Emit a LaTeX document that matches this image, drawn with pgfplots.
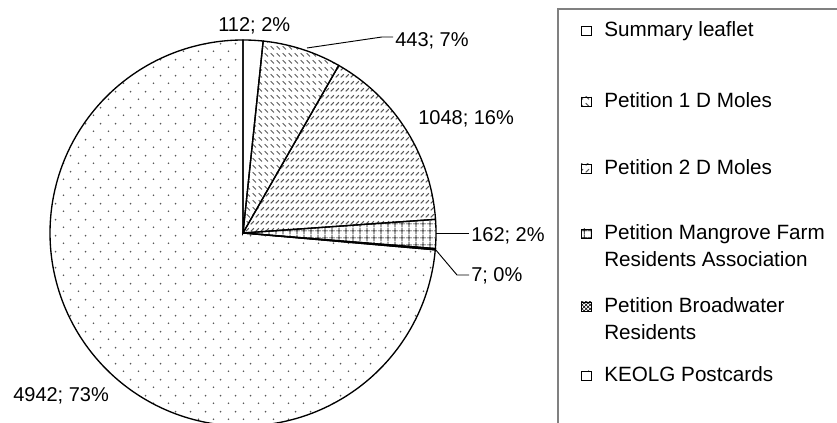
\documentclass[border=0pt]{standalone}
\usepackage{fontspec}
\setmainfont{Liberation Sans}
\usepackage{pgfplots}
\usepackage{pgfplotstable}
\pgfplotsset{compat=1.18}
\usetikzlibrary{patterns}

\pgfdeclarepatternformonly{dashdown}{\pgfpointorigin}{\pgfpoint{4.1pt}{5.5pt}}{\pgfpoint{4.1pt}{5.5pt}}{%
  \pgfsetlinewidth{0.8pt}%
  \pgfpathmoveto{\pgfpoint{0.6pt}{3.9pt}}%
  \pgfpathlineto{\pgfpoint{3.2pt}{1.3pt}}%
  \pgfusepath{stroke}}
\pgfdeclarepatternformonly{dashup}{\pgfpointorigin}{\pgfpoint{4.1pt}{5.5pt}}{\pgfpoint{4.1pt}{5.5pt}}{%
  \pgfsetlinewidth{0.8pt}%
  \pgfpathmoveto{\pgfpoint{0.6pt}{1.3pt}}%
  \pgfpathlineto{\pgfpoint{3.2pt}{3.9pt}}%
  \pgfusepath{stroke}}
\pgfdeclarepatternformonly{smallgrid}{\pgfpointorigin}{\pgfpoint{5.25pt}{5.25pt}}{\pgfpoint{5.25pt}{5.25pt}}{%
  \pgfsetlinewidth{0.6pt}%
  \pgfpathmoveto{\pgfpoint{2.625pt}{0pt}}%
  \pgfpathlineto{\pgfpoint{2.625pt}{5.25pt}}%
  \pgfpathmoveto{\pgfpoint{0pt}{2.625pt}}%
  \pgfpathlineto{\pgfpoint{5.25pt}{2.625pt}}%
  \pgfusepath{stroke}}
\pgfdeclarepatternformonly{stagdots}{\pgfpointorigin}{\pgfpoint{11.25pt}{12pt}}{\pgfpoint{11.25pt}{12pt}}{%
  \pgfpathcircle{\pgfpoint{2.8pt}{3pt}}{0.75pt}%
  \pgfpathcircle{\pgfpoint{8.4pt}{9pt}}{0.75pt}%
  \pgfusepath{fill}}

\pgfplotstableread{
label value
SummaryLeaflet 112
Petition1 443
Petition2 1048
Mangrove 162
Broadwater 7
KEOLG 4942
}\piedata

\pgfplotstablegetelem{0}{value}\of\piedata \let\vA\pgfplotsretval
\pgfplotstablegetelem{1}{value}\of\piedata \let\vB\pgfplotsretval
\pgfplotstablegetelem{2}{value}\of\piedata \let\vC\pgfplotsretval
\pgfplotstablegetelem{3}{value}\of\piedata \let\vD\pgfplotsretval
\pgfplotstablegetelem{4}{value}\of\piedata \let\vE\pgfplotsretval
\pgfplotstablegetelem{5}{value}\of\piedata \let\vF\pgfplotsretval
\pgfmathsetmacro\tot{\vA+\vB+\vC+\vD+\vE+\vF}
\pgfmathsetmacro\aA{90}
\pgfmathsetmacro\aB{\aA-360*(\vA/\tot)}
\pgfmathsetmacro\aC{\aB-360*(\vB/\tot)}
\pgfmathsetmacro\aD{\aC-360*(\vC/\tot)}
\pgfmathsetmacro\aE{\aD-360*(\vD/\tot)}
\pgfmathsetmacro\aF{\aE-360*(\vE/\tot)}
\pgfmathsetmacro\aG{\aF-360*(\vF/\tot)}

\colorlet{patgray}{gray!70!black}
\tikzset{lbl/.style={anchor=base west, inner sep=0pt, text=black, font=\fontsize{15pt}{18pt}\selectfont},
  leg/.style={anchor=base west, inner sep=0pt, text=black, font=\fontsize{15.5pt}{18pt}\selectfont}}

\begin{document}
\begin{tikzpicture}
\begin{axis}[
  width=627.75pt, height=317.25pt, scale only axis,
  xmin=0, xmax=837, ymin=0, ymax=423,
  hide axis,
]
% slices
\addplot[draw=black, line width=1pt, fill=white, domain=\aB:\aA, samples=10, variable=\t]
  ({243+193*cos(\t)},{190+193*sin(\t)}) -- (axis cs:243,190) -- cycle;
\addplot[draw=black, line width=1pt, pattern=dashdown, pattern color=patgray, domain=\aC:\aB, samples=30, variable=\t]
  ({243+193*cos(\t)},{190+193*sin(\t)}) -- (axis cs:243,190) -- cycle;
\addplot[draw=black, line width=1pt, pattern=dashup, pattern color=patgray, domain=\aD:\aC, samples=60, variable=\t]
  ({243+193*cos(\t)},{190+193*sin(\t)}) -- (axis cs:243,190) -- cycle;
\addplot[draw=black, line width=1pt, pattern=smallgrid, pattern color=black, domain=\aE:\aD, samples=10, variable=\t]
  ({243+193*cos(\t)},{190+193*sin(\t)}) -- (axis cs:243,190) -- cycle;
\addplot[draw=black, line width=1pt, pattern=crosshatch, pattern color=black, domain=\aF:\aE, samples=4, variable=\t]
  ({243+193*cos(\t)},{190+193*sin(\t)}) -- (axis cs:243,190) -- cycle;
\addplot[draw=black, line width=1pt, pattern=stagdots, pattern color=patgray, domain=\aG:\aF, samples=200, variable=\t]
  ({243+193*cos(\t)},{190+193*sin(\t)}) -- (axis cs:243,190) -- cycle;

% data labels
\node[lbl] at (axis cs:218,391) {112; 2\%};
\node[lbl] at (axis cs:395,376) {443; 7\%};
\node[lbl] at (axis cs:418,298) {1048; 16\%};
\node[lbl] at (axis cs:471,181) {162; 2\%};
\node[lbl] at (axis cs:471,141) {7; 0\%};
\node[lbl] at (axis cs:13,21) {4942; 73\%};
% leader lines
\draw[black, line width=0.7pt] (axis cs:307,375) -- (axis cs:382,386) -- (axis cs:393,386);
\draw[black, line width=0.7pt] (axis cs:436,190) -- (axis cs:469,190);
\draw[black, line width=0.7pt] (axis cs:435,174) -- (axis cs:457,148) -- (axis cs:469,148);

% legend
\draw[gray, line width=0.8pt] (axis cs:850,414) -- (axis cs:558,414) -- (axis cs:558,-10);
\draw[black, line width=0.6pt, fill=white] (axis cs:581,387.5) rectangle (axis cs:591,397);
\node[leg] at (axis cs:604,386) {Summary leaflet};
\draw[black, line width=0.6pt, pattern=dashdown, pattern color=patgray] (axis cs:581,316.5) rectangle (axis cs:591,326);
\node[leg] at (axis cs:604,315) {Petition 1 D Moles};
\draw[black, line width=0.6pt, pattern=dashup, pattern color=patgray] (axis cs:581,249.5) rectangle (axis cs:591,259);
\node[leg] at (axis cs:604,248) {Petition 2 D Moles};
\draw[black, line width=0.6pt, pattern=smallgrid, pattern color=black] (axis cs:581,184.5) rectangle (axis cs:591,194);
\node[leg] at (axis cs:604,183) {Petition Mangrove Farm};
\node[leg] at (axis cs:604,156) {Residents Association};
\draw[black, line width=0.6pt, pattern=crosshatch, pattern color=black] (axis cs:581,111.5) rectangle (axis cs:591,121);
\node[leg] at (axis cs:604,110) {Petition Broadwater};
\node[leg] at (axis cs:604,83) {Residents};
\draw[black, line width=0.6pt, pattern=stagdots, pattern color=patgray] (axis cs:581,42.5) rectangle (axis cs:591,52);
\node[leg] at (axis cs:604,41) {KEOLG Postcards};

\coordinate (SW) at (axis cs:0,0);
\coordinate (NE) at (axis cs:837,423);
\end{axis}
\pgfresetboundingbox
\useasboundingbox (SW) rectangle (NE);
\end{tikzpicture}
\end{document}
